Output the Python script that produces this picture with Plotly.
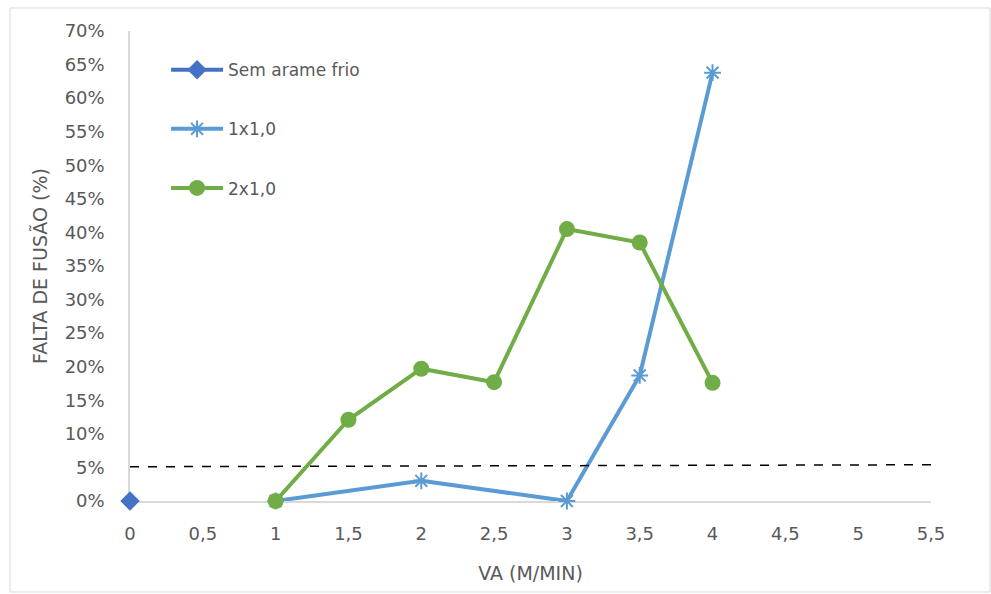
import plotly.graph_objects as go

x_sem = [0]
y_sem = [0.0]
x_1x1 = [1, 2, 3, 3.5, 4]
y_1x1 = [0.0, 0.030, 0.0, 0.187, 0.638]
x_2x1 = [1, 1.5, 2, 2.5, 3, 3.5, 4]
y_2x1 = [0.0, 0.121, 0.197, 0.177, 0.405, 0.385, 0.176]
x_ref = [0, 5.5]
y_ref = [0.051, 0.054]
x_ticks = [0, 0.5, 1, 1.5, 2, 2.5, 3, 3.5, 4, 4.5, 5, 5.5]

FONT = "DejaVu Sans"
GRAY = "#595959"

fig = go.Figure()
fig.add_trace(go.Scatter(x=x_sem, y=y_sem, name="Sem arame frio", mode="lines+markers",
                         line=dict(color="#4472C4", width=4),
                         marker=dict(symbol="diamond", size=15, color="#4472C4"),
                         cliponaxis=False, legendgroup="a"))
fig.add_trace(go.Scatter(x=x_1x1, y=y_1x1, name="1x1,0", mode="lines+markers",
                         line=dict(color="#5B9BD5", width=4),
                         marker=dict(symbol="asterisk-open", size=14,
                                     line=dict(color="#5B9BD5", width=2)),
                         cliponaxis=False, legendgroup="b"))
fig.add_trace(go.Scatter(x=x_2x1, y=y_2x1, name="2x1,0", mode="lines+markers",
                         line=dict(color="#70AD47", width=4),
                         marker=dict(symbol="circle", size=16, color="#70AD47"),
                         cliponaxis=False, legendgroup="c"))
fig.add_trace(go.Scatter(x=x_ref, y=y_ref, mode="lines", showlegend=False,
                         line=dict(color="black", width=1.5, dash="dash"),
                         hoverinfo="skip"))

fig.update_layout(
    width=991, height=594,
    margin=dict(l=130, r=60, t=31, b=93),
    paper_bgcolor="white", plot_bgcolor="white",
    separators=",.",
    font=dict(family=FONT, size=18, color=GRAY),
    showlegend=True,
    legend=dict(x=0.045, y=0.955, xanchor="left", yanchor="top",
                bgcolor="rgba(0,0,0,0)", tracegroupgap=34,
                font=dict(family=FONT, size=17, color=GRAY),
                itemwidth=52),
    xaxis=dict(range=[0, 5.5], tickvals=x_ticks, tickformat="",
               showgrid=False, zeroline=False, showline=True,
               linecolor="#D9D9D9", linewidth=1.5, ticks="",
               layer="below traces",
               title=dict(text="VA (M/MIN)", standoff=23,
                          font=dict(family=FONT, size=19, color=GRAY)),
               ticklabelstandoff=16),
    yaxis=dict(range=[0, 0.7], dtick=0.05, tickformat=".0%",
               showgrid=False, zeroline=False, showline=True,
               linecolor="#D9D9D9", linewidth=1.5, ticks="",
               layer="below traces",
               title=dict(text="FALTA DE FUSÃO (%)", standoff=12,
                          font=dict(family=FONT, size=19, color=GRAY)),
               ticklabelstandoff=20),
)

fig.add_shape(type="rect", xref="paper", yref="paper",
              x0=-0.1498, x1=1.0737, y0=-0.1936, y1=1.049,
              line=dict(color="#D9D9D9", width=1), layer="below")

fig.write_html("out.html")
